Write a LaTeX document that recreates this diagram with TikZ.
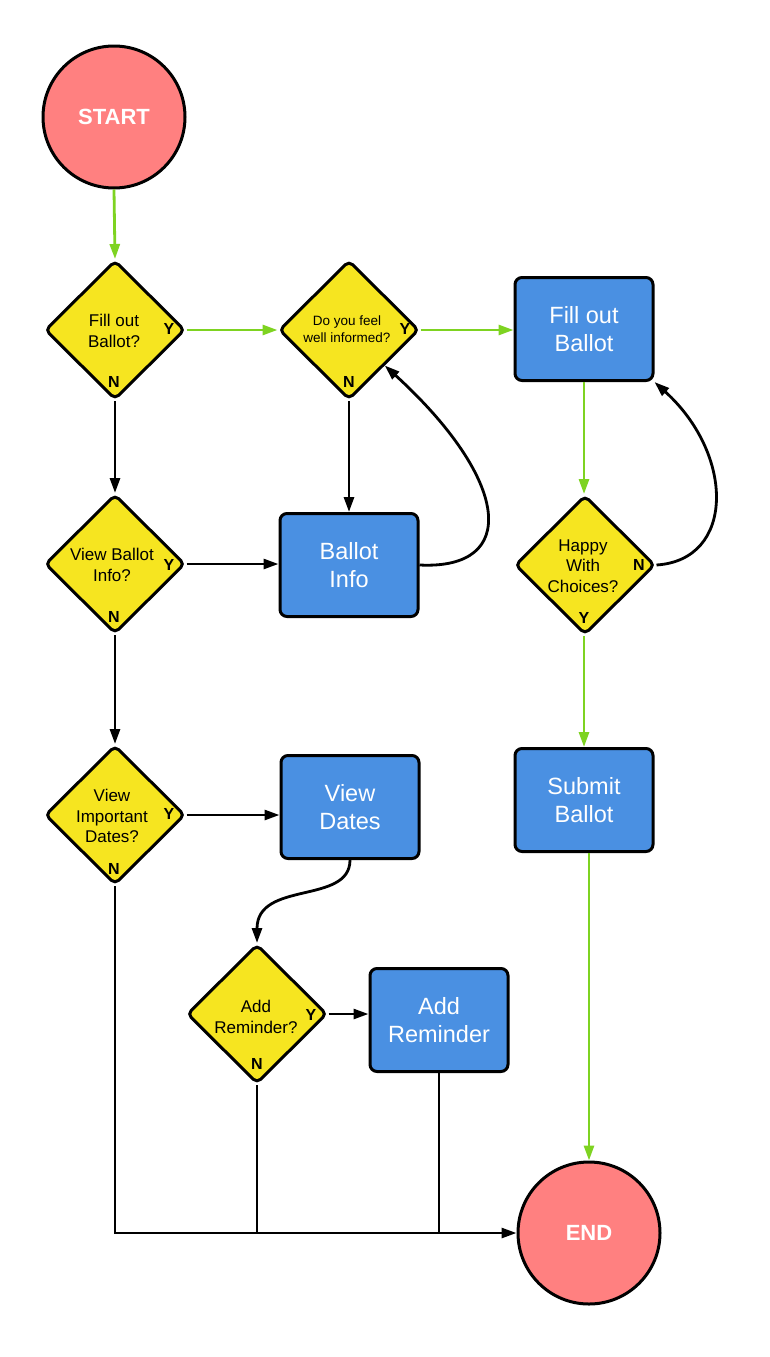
\documentclass[tikz,border=0pt]{standalone}
\usepackage{fontspec}
\setmainfont{Liberation Sans}
\usetikzlibrary{shapes.geometric,arrows.meta,calc}
\definecolor{termred}{RGB}{255,128,128}
\definecolor{decyellow}{RGB}{246,229,32}
\definecolor{procblue}{RGB}{74,144,226}
\definecolor{flowgreen}{RGB}{126,211,33}
\begin{document}
\begin{tikzpicture}[x=1pt,y=-1pt,
  term/.style={circle, draw=black, line width=3pt, fill=termred, minimum size=142pt, inner sep=0pt,
    font=\fontsize{22}{26}\selectfont\bfseries, text=white},
  dec/.style={diamond, draw=black, line width=3pt, fill=decyellow, minimum width=140pt, minimum height=139pt,
    inner sep=0pt, rounded corners=5pt},
  proc/.style={rectangle, draw=black, line width=3pt, fill=procblue, rounded corners=7pt,
    minimum width=138pt, minimum height=103pt, text=white, align=center,
    font=\fontsize{23.5}{28}\selectfont},
  dtext/.style={font=\fontsize{17}{20.5}\selectfont, align=center, inner sep=0pt},
  yn/.style={font=\fontsize{16}{18}\selectfont\bfseries, inner sep=0pt},
  conn/.style={line width=2.8pt, -{Triangle[length=15pt,width=10pt]}},
  gconn/.style={conn, draw=flowgreen},
  bconn/.style={conn, draw=black},
  bline/.style={line width=2.8pt, draw=black}
]
\useasboundingbox (0,0) rectangle (769,1357);

% terminals
\node[term] (start) at (114,117) {START};
\node[term] (endn) at (589,1233) {END};

% decisions
\node[dec] (d1) at (115,330) {};
\node[dtext] (t1) at (114,331) {Fill out\\Ballot?};
\node[yn] (d1y) at (169,329) {Y};
\node[yn] (d1n) at (114,382) {N};

\node[dec] (d2) at (349,330) {};
\node[dtext, font=\fontsize{13.5}{17}\selectfont] (t2) at (347,329) {Do you feel\\well informed?};
\node[yn] (d2y) at (405,329) {Y};
\node[yn] (d2n) at (349,382) {N};

\node[dec] (d3) at (115,564) {};
\node[dtext] (t3) at (112,565) {View Ballot\\Info?};
\node[yn] (d3y) at (169,565) {Y};
\node[yn] (d3n) at (114,617) {N};

\node[dec] (d4) at (115,815) {};
\node[dtext] (t4) at (112,816) {View\\Important\\Dates?};
\node[yn] (d4y) at (169,814) {Y};
\node[yn] (d4n) at (114,869) {N};

\node[dec] (d5) at (585,565) {};
\node[dtext] (t5) at (583,566) {Happy\\With\\Choices?};
\node[yn] (d5n) at (639,565) {N};
\node[yn] (d5y) at (584,618) {Y};

\node[dec] (d6) at (257,1014) {};
\node[dtext] (t6) at (256,1017) {Add\\Reminder?};
\node[yn] (d6y) at (311,1015) {Y};
\node[yn] (d6n) at (257,1064) {N};

% processes
\node[proc] (fob) at (584,329) {Fill out\\Ballot};
\node[proc] (binfo) at (349,565) {Ballot\\Info};
\node[proc] (vdates) at (350,807) {View\\Dates};
\node[proc] (submit) at (584,800) {Submit\\Ballot};
\node[proc] (addrem) at (439,1020) {Add\\Reminder};

% green connectors
\draw[gconn] (start.south) -- (d1.north);
\draw[gconn] (d1.east) -- (d2.west);
\draw[gconn] (d2.east) -- (d2.east -| fob.west);
\draw[gconn] (fob.south) -- (d5.north -| fob.south);
\draw[gconn] (d5.south -| fob.south) -- (submit.north);
\draw[gconn] (submit.south -| endn.north) -- (endn.north);

% black connectors
\draw[bconn] (d1.south) -- (d3.north);
\draw[bconn] (d2.south) -- (binfo.north);
\draw[bconn] (d3.east) -- (binfo.west |- d3.east);
\draw[bconn] (d3.south) -- (d4.north);
\draw[bconn] (d4.east) -- (vdates.west |- d4.east);
\draw[bconn] (d6.east) -- (addrem.west |- d6.east);

\coordinate (d2edge) at ($(d2.east)!0.5!(d2.south)$);
\draw[bconn] (binfo.east) .. controls (520,570) and (510,480) .. (d2edge);
\draw[bconn] (d5.east) .. controls (735,560) and (735,455) .. (fob.south east);
\draw[bconn] (vdates.south) .. controls (350,905) and (257,880) .. (d6.north);

% merge to END
\coordinate (m1) at (d4.south |- endn.west);
\coordinate (m2) at (d6.south |- endn.west);
\coordinate (m3) at (addrem.south |- endn.west);
\draw[bline] (d6.south) -- (m2);
\draw[bline] (addrem.south) -- (m3);
\draw[bconn] (d4.south) -- (m1) -- (endn.west);
\end{tikzpicture}
\end{document}
